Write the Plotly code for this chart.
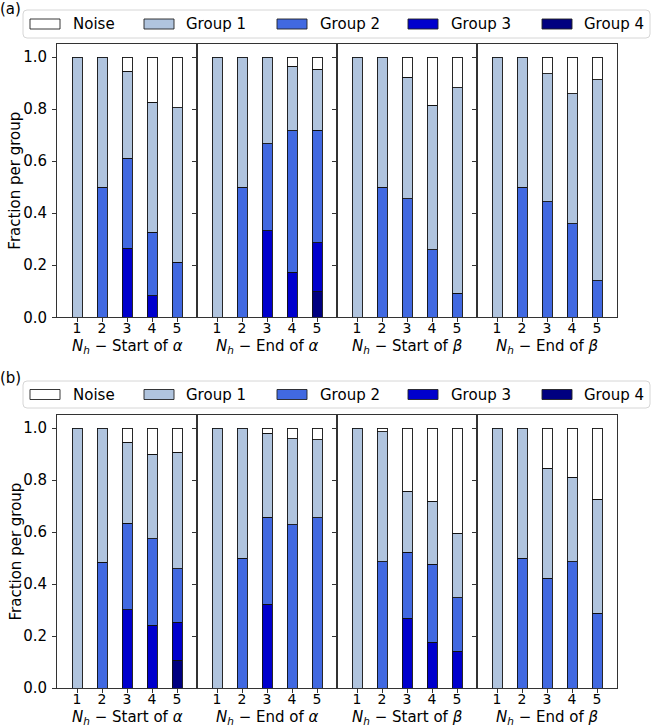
import plotly.graph_objects as go

# ---------------- data ----------------
n_h = [1, 2, 3, 4, 5]
conditions = ["Start of <i>α</i>", "End of <i>α</i>", "Start of <i>β</i>", "End of <i>β</i>"]
group_names = ["Noise", "Group 1", "Group 2", "Group 3", "Group 4"]

# panel (a): fraction per group, one row per condition (Start α, End α, Start β, End β)
a_g4 = [[0, 0, 0, 0, 0], [0, 0, 0, 0, 0.099], [0, 0, 0, 0, 0], [0, 0, 0, 0, 0]]
a_g3 = [[0, 0, 0.265, 0.083, 0], [0, 0, 0.333, 0.173, 0.188], [0, 0, 0, 0, 0], [0, 0, 0, 0, 0]]
a_g2 = [[0, 0.5, 0.347, 0.243, 0.212], [0, 0.5, 0.334, 0.544, 0.432],
        [0, 0.5, 0.455, 0.259, 0.092], [0, 0.5, 0.444, 0.359, 0.141]]
a_g1 = [[1, 0.5, 0.333, 0.5, 0.594], [1, 0.5, 0.333, 0.248, 0.234],
        [1, 0.5, 0.468, 0.556, 0.789], [1, 0.5, 0.491, 0.5, 0.772]]
a_noise = [[0, 0, 0.055, 0.174, 0.194], [0, 0, 0, 0.035, 0.047],
           [0, 0, 0.077, 0.185, 0.119], [0, 0, 0.065, 0.141, 0.087]]

# panel (b)
b_g4 = [[0, 0, 0, 0, 0.106], [0, 0, 0, 0, 0], [0, 0, 0, 0, 0], [0, 0, 0, 0, 0]]
b_g3 = [[0, 0, 0.301, 0.241, 0.147], [0, 0, 0.322, 0, 0],
        [0, 0, 0.268, 0.176, 0.141], [0, 0, 0, 0, 0]]
b_g2 = [[0, 0.483, 0.332, 0.333, 0.206], [0, 0.5, 0.334, 0.627, 0.654],
        [0, 0.485, 0.254, 0.3, 0.206], [0, 0.5, 0.422, 0.485, 0.287]]
b_g1 = [[1, 0.517, 0.312, 0.326, 0.447], [1, 0.5, 0.323, 0.332, 0.3],
        [1, 0.5, 0.234, 0.242, 0.248], [1, 0.5, 0.423, 0.325, 0.439]]
b_noise = [[0, 0, 0.055, 0.1, 0.094], [0, 0, 0.021, 0.041, 0.046],
           [0, 0.015, 0.244, 0.282, 0.405], [0, 0, 0.155, 0.19, 0.274]]

y_ticks = [0.0, 0.2, 0.4, 0.6, 0.8, 1.0]

# ---------------- styles / layout ----------------
W, H = 651, 728
colors = {"Noise": "#FFFFFF", "Group 1": "#B0C4DE", "Group 2": "#4169E1",
          "Group 3": "#0000CD", "Group 4": "#000080"}
FONT = "DejaVu Sans"
FS = 15
FS_XT = 14
AX = "#333333"

panel_series = [
    [("Group 4", a_g4), ("Group 3", a_g3), ("Group 2", a_g2), ("Group 1", a_g1), ("Noise", a_noise)],
    [("Group 4", b_g4), ("Group 3", b_g3), ("Group 2", b_g2), ("Group 1", b_g1), ("Noise", b_noise)],
]
# pixel geometry
col_left = [57, 197, 337, 477]
col_w = 140
panel_top = [44, 415]
panel_bot = [317.3, 688]
legend_top = [10, 381]
legend_bot = [38, 408]
patch_x = [30, 144, 277, 408, 542]
text_x = [71, 184, 318, 449, 582]
label_y = [9, 378]


def px(x):
    return x / W


def py(y):
    return 1 - y / H


fig = go.Figure()
layout = dict(
    width=W, height=H, margin=dict(l=0, r=0, t=0, b=0),
    paper_bgcolor="white", plot_bgcolor="white",
    barmode="stack", showlegend=False,
    font=dict(family=FONT, size=FS, color="black"),
)
annotations = []
shapes = []

for p in range(2):
    for c in range(4):
        idx = p * 4 + c + 1
        xa = "x" if idx == 1 else f"x{idx}"
        ya = "y" if idx == 1 else f"y{idx}"
        for name, arr in panel_series[p]:
            vals = [v if v > 0 else None for v in arr[c]]
            fig.add_trace(go.Bar(
                x=n_h, y=vals, name=name, xaxis=xa, yaxis=ya, width=0.4,
                marker=dict(color=colors[name], line=dict(color="#111111", width=0.9)),
                showlegend=False,
            ))
        xkey = "xaxis" if idx == 1 else f"xaxis{idx}"
        ykey = "yaxis" if idx == 1 else f"yaxis{idx}"
        layout[xkey] = dict(
            domain=[px(col_left[c]), px(col_left[c] + col_w)], anchor=ya,
            range=[0.2, 5.8], tickvals=n_h, ticks="outside", ticklen=4, tickcolor=AX,
            ticklabelstandoff=-6,
            tickfont=dict(size=FS_XT, family=FONT, color="black"),
            showline=True, linecolor=AX, linewidth=1, mirror=True,
            showgrid=False, zeroline=False, automargin=False, fixedrange=True,
        )
        layout[ykey] = dict(
            domain=[py(panel_bot[p]), py(panel_top[p])], anchor=xa,
            range=[0, 1.05], tickvals=y_ticks, ticktext=[f"{v:.1f}" for v in y_ticks],
            ticks="outside", ticklen=4, tickcolor=AX, showticklabels=(c == 0),
            ticklabelstandoff=2,
            tickfont=dict(size=FS, family=FONT, color="black"),
            showline=True, linecolor=AX, linewidth=1, mirror=True,
            showgrid=False, zeroline=False, automargin=False, fixedrange=True,
        )
        # x-axis title
        annotations.append(dict(
            text=f"<i>N</i><sub><i>h</i></sub> − {conditions[c]}",
            xref="paper", yref="paper",
            x=px(col_left[c] + col_w / 2), y=py(panel_bot[p] + 39.5),
            xanchor="center", yanchor="bottom", showarrow=False, borderpad=0,
            font=dict(size=FS, family=FONT, color="black"),
        ))
    # y-axis title
    annotations.append(dict(
        text="Fraction per group", textangle=-90,
        xref="paper", yref="paper",
        x=px(15), y=py((panel_top[p] + panel_bot[p]) / 2),
        xanchor="center", yanchor="middle", showarrow=False,
        font=dict(size=FS, family=FONT, color="black"),
    ))
    # panel label
    annotations.append(dict(
        text="(a)" if p == 0 else "(b)", xref="paper", yref="paper",
        x=px(-2), y=py(label_y[p]), xanchor="left", yanchor="middle", showarrow=False,
        font=dict(size=FS, family=FONT, color="black"),
    ))
    # legend box (rounded)
    x0, x1 = 23, 650
    y0, y1 = legend_top[p], legend_bot[p]
    r = 4
    path = (f"M {px(x0 + r)},{py(y0)} L {px(x1 - r)},{py(y0)} Q {px(x1)},{py(y0)} {px(x1)},{py(y0 + r)} "
            f"L {px(x1)},{py(y1 - r)} Q {px(x1)},{py(y1)} {px(x1 - r)},{py(y1)} "
            f"L {px(x0 + r)},{py(y1)} Q {px(x0)},{py(y1)} {px(x0)},{py(y1 - r)} "
            f"L {px(x0)},{py(y0 + r)} Q {px(x0)},{py(y0)} {px(x0 + r)},{py(y0)} Z")
    shapes.append(dict(type="path", path=path, xref="paper", yref="paper",
                       fillcolor="rgba(255,255,255,0.8)", line=dict(color="#d6d6d6", width=1)))
    cy = (y0 + y1) / 2
    for i, name in enumerate(group_names):
        shapes.append(dict(type="rect", xref="paper", yref="paper",
                           x0=px(patch_x[i]), x1=px(patch_x[i] + 30),
                           y0=py(cy - 5), y1=py(cy + 5),
                           fillcolor=colors[name], line=dict(color="#222222", width=0.9)))
        annotations.append(dict(
            text=name, xref="paper", yref="paper", x=px(text_x[i]), y=py(cy),
            xanchor="left", yanchor="middle", showarrow=False,
            font=dict(size=FS, family=FONT, color="black"),
        ))

layout["annotations"] = annotations
layout["shapes"] = shapes
fig.update_layout(**layout)
fig.write_html(
    "out.html",
    config={"displayModeBar": False},
    post_script="document.body.style.margin='0';document.body.style.padding='0';",
)
